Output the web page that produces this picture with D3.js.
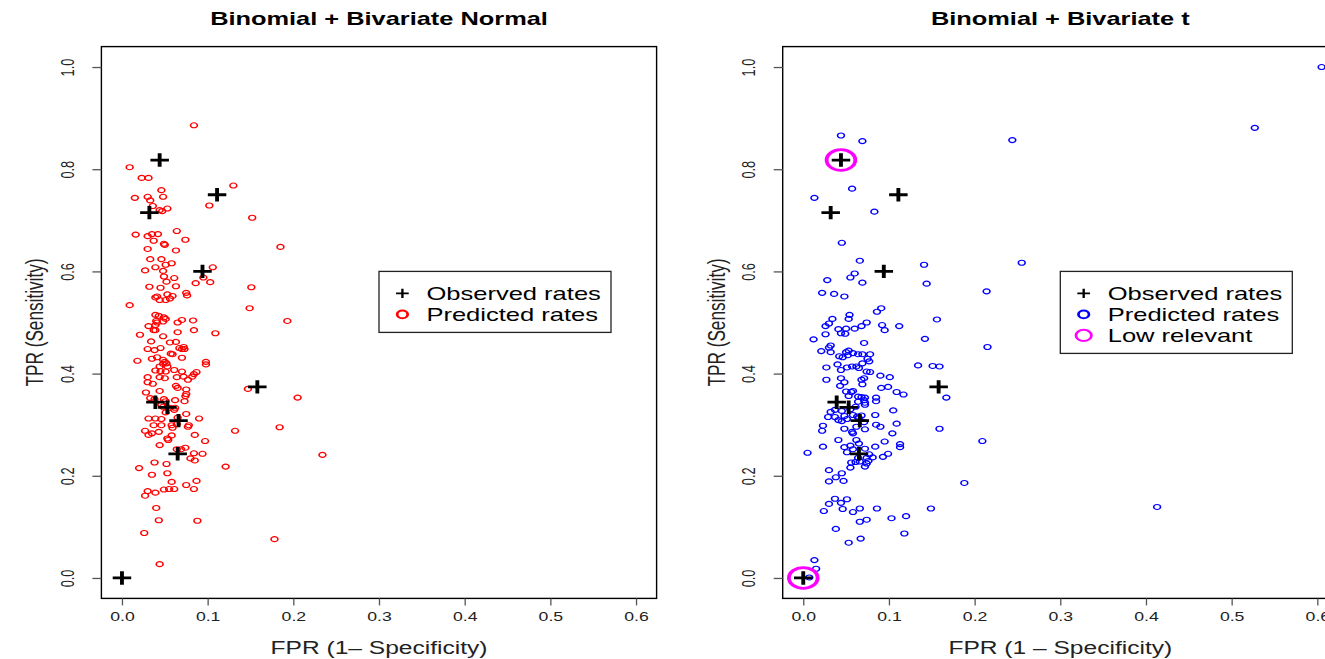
<!DOCTYPE html>
<html>
<head>
<meta charset="utf-8">
<script src="https://cdn.jsdelivr.net/npm/d3@7"></script>
<style>
  html, body { margin: 0; padding: 0; background: #fff; overflow: hidden; }
</style>
</head>
<body>
<svg id="chart" width="1325" height="659"></svg>
<script>
// Observed study rates (same in both panels)
const obsFPR = [0, 0.044, 0.111, 0.032, 0.094, 0.158, 0.039, 0.053, 0.066, 0.065];
const obsTPR = [0, 0.818, 0.750, 0.715, 0.600, 0.374, 0.344, 0.334, 0.308, 0.243];

// Predicted rates, binomial + bivariate normal model
const normFPR = [
  0.084,0.009,0.023,0.031,0.130,0.046,0.015,0.030,0.048,0.033,
  0.102,0.036,0.044,0.047,0.053,0.152,0.016,0.030,0.035,0.042,
  0.037,0.064,0.074,0.049,0.050,0.030,0.063,0.185,0.033,0.046,
  0.058,0.051,0.039,0.027,0.106,0.049,0.061,0.095,0.048,0.052,
  0.086,0.103,0.063,0.032,0.045,0.151,0.075,0.076,0.041,0.039,
  0.044,0.051,0.056,0.059,0.053,0.009,0.149,0.039,0.043,0.049,
  0.051,0.040,0.048,0.041,0.070,0.065,0.083,0.193,0.031,0.039,
  0.037,0.039,0.084,0.065,0.109,0.021,0.048,0.034,0.063,0.056,
  0.030,0.045,0.038,0.067,0.072,0.073,0.070,0.057,0.059,0.035,
  0.041,0.070,0.018,0.048,0.050,0.048,0.052,0.053,0.044,0.098,
  0.098,0.039,0.045,0.051,0.061,0.070,0.087,0.084,0.082,0.072,
  0.030,0.044,0.050,0.064,0.077,0.030,0.036,0.063,0.065,0.075,
  0.044,0.147,0.028,0.075,0.074,0.033,0.038,0.049,0.051,0.062,
  0.073,0.205,0.046,0.048,0.056,0.061,0.062,0.051,0.075,0.090,
  0.065,0.031,0.046,0.039,0.037,0.046,0.058,0.064,0.059,0.077,
  0.078,0.184,0.132,0.027,0.035,0.031,0.043,0.058,0.053,0.085,
  0.044,0.064,0.074,0.097,0.054,0.069,0.084,0.094,0.080,0.085,
  0.234,0.038,0.052,0.020,0.121,0.035,0.053,0.058,0.087,0.075,
  0.030,0.039,0.027,0.049,0.055,0.061,0.084,0.040,0.043,0.088,
  0.026,0.178,0.044
];
const normTPR = [
  0.886,0.804,0.783,0.783,0.768,0.759,0.744,0.746,0.746,0.739,
  0.729,0.728,0.720,0.718,0.723,0.705,0.672,0.669,0.673,0.673,
  0.660,0.679,0.662,0.654,0.652,0.644,0.641,0.648,0.624,0.624,
  0.616,0.613,0.608,0.602,0.608,0.590,0.587,0.588,0.601,0.580,
  0.577,0.579,0.571,0.570,0.568,0.569,0.558,0.553,0.551,0.549,
  0.544,0.544,0.547,0.552,0.555,0.534,0.528,0.515,0.513,0.510,
  0.507,0.503,0.502,0.500,0.505,0.500,0.504,0.503,0.493,0.495,
  0.485,0.485,0.485,0.481,0.479,0.476,0.473,0.463,0.462,0.461,
  0.448,0.450,0.446,0.450,0.452,0.448,0.448,0.439,0.438,0.429,
  0.432,0.431,0.425,0.427,0.423,0.419,0.420,0.414,0.414,0.423,
  0.418,0.406,0.405,0.404,0.407,0.404,0.403,0.399,0.394,0.394,
  0.393,0.393,0.391,0.393,0.388,0.383,0.380,0.376,0.372,0.369,
  0.366,0.370,0.363,0.360,0.356,0.352,0.350,0.350,0.346,0.348,
  0.346,0.353,0.339,0.335,0.333,0.329,0.333,0.324,0.321,0.312,
  0.314,0.312,0.311,0.312,0.299,0.299,0.299,0.301,0.294,0.296,
  0.299,0.295,0.288,0.288,0.283,0.280,0.286,0.279,0.273,0.280,
  0.260,0.252,0.255,0.268,0.270,0.252,0.244,0.243,0.234,0.230,
  0.241,0.226,0.223,0.215,0.218,0.202,0.205,0.188,0.190,0.182,
  0.170,0.167,0.161,0.173,0.174,0.174,0.174,0.137,0.113,0.112,
  0.088,0.076,0.027
];

// Predicted rates, binomial + bivariate t model
const tFPR = [
  0.044,0.069,0.057,0.013,0.083,0.045,0.066,0.141,0.060,0.055,
  0.028,0.069,0.144,0.022,0.036,0.048,0.091,0.086,0.156,0.054,
  0.053,0.034,0.030,0.026,0.074,0.068,0.060,0.050,0.041,0.044,
  0.049,0.026,0.092,0.095,0.112,0.012,0.142,0.071,0.032,0.030,
  0.021,0.032,0.053,0.050,0.058,0.064,0.069,0.078,0.042,0.046,
  0.052,0.075,0.077,0.069,0.057,0.051,0.062,0.065,0.040,0.027,
  0.044,0.134,0.151,0.159,0.027,0.044,0.048,0.043,0.068,0.074,
  0.078,0.071,0.069,0.090,0.101,0.091,0.099,0.050,0.056,0.058,
  0.064,0.068,0.072,0.071,0.064,0.085,0.085,0.053,0.109,0.117,
  0.167,0.032,0.037,0.045,0.055,0.048,0.058,0.068,0.061,0.072,
  0.072,0.105,0.029,0.037,0.041,0.045,0.051,0.063,0.065,0.084,
  0.071,0.023,0.022,0.048,0.057,0.062,0.072,0.085,0.090,0.109,
  0.104,0.095,0.113,0.113,0.159,0.041,0.058,0.062,0.065,0.055,
  0.048,0.023,0.058,0.072,0.084,0.005,0.051,0.077,0.074,0.081,
  0.064,0.066,0.061,0.056,0.055,0.074,0.072,0.076,0.093,0.099,
  0.209,0.030,0.045,0.038,0.030,0.047,0.188,0.037,0.051,0.030,
  0.044,0.024,0.046,0.058,0.066,0.086,0.066,0.074,0.103,0.120,
  0.149,0.038,0.118,0.053,0.067,0.013,0.015,0.007,0.244,0.527,
  0.255,0.214,0.215,0.413,0.605
];
const tTPR = [
  0.866,0.855,0.762,0.744,0.717,0.656,0.621,0.613,0.596,0.588,
  0.583,0.578,0.576,0.558,0.556,0.551,0.528,0.521,0.506,0.515,
  0.507,0.507,0.498,0.493,0.500,0.493,0.488,0.488,0.487,0.479,
  0.478,0.477,0.495,0.485,0.493,0.467,0.468,0.460,0.455,0.451,
  0.444,0.442,0.445,0.442,0.440,0.438,0.438,0.438,0.434,0.432,
  0.436,0.429,0.424,0.420,0.414,0.412,0.414,0.411,0.418,0.412,
  0.407,0.416,0.415,0.414,0.388,0.391,0.383,0.376,0.388,0.404,
  0.403,0.391,0.379,0.396,0.393,0.372,0.374,0.365,0.364,0.366,
  0.355,0.354,0.353,0.348,0.345,0.353,0.346,0.356,0.364,0.359,
  0.353,0.325,0.329,0.327,0.330,0.317,0.319,0.318,0.335,0.343,
  0.339,0.328,0.315,0.315,0.309,0.307,0.311,0.316,0.313,0.319,
  0.305,0.298,0.288,0.292,0.286,0.296,0.291,0.300,0.296,0.302,
  0.283,0.267,0.262,0.256,0.292,0.270,0.283,0.270,0.263,0.259,
  0.256,0.257,0.252,0.253,0.257,0.245,0.246,0.242,0.235,0.236,
  0.235,0.228,0.227,0.226,0.216,0.224,0.218,0.229,0.237,0.243,
  0.268,0.211,0.205,0.197,0.189,0.190,0.186,0.155,0.154,0.145,
  0.147,0.131,0.135,0.129,0.136,0.136,0.110,0.114,0.117,0.121,
  0.136,0.096,0.087,0.069,0.077,0.035,0.018,0.001,0.857,0.881,
  0.617,0.561,0.452,0.139,1.000
];

// Studies flagged as low relevant under the t model
const lowFPR = [0.044, 0];
const lowTPR = [0.818, 0];

const xTicks = [0, 0.1, 0.2, 0.3, 0.4, 0.5, 0.6];
const yTicks = [0, 0.2, 0.4, 0.6, 0.8, 1.0];

// ---------------------------------------------------------------------------
const SX = 1.38;                         // horizontal stretch of glyphs and marks
const FONT = "'Liberation Sans', Arial, Helvetica, sans-serif";
const TOP = 46.6, PW = 555.2, PH = 551.8;

const svg = d3.select("#chart");

const panels = [
  {
    left: 101.4,
    title: "Binomial + Bivariate Normal",
    xTitle: "FPR (1\u2013 Specificity)",
    fpr: normFPR, tpr: normTPR, color: "#ff0000",
    legend: [
      {type: "plus", label: "Observed rates"},
      {type: "o", color: "#ff0000", label: "Predicted rates"}
    ],
    low: false
  },
  {
    left: 782.7,
    title: "Binomial + Bivariate t",
    xTitle: "FPR (1 \u2013 Specificity)",
    fpr: tFPR, tpr: tTPR, color: "#0000ff",
    legend: [
      {type: "plus", label: "Observed rates"},
      {type: "o", color: "#0000ff", label: "Predicted rates"},
      {type: "big", color: "#ff00ff", label: "Low relevant"}
    ],
    low: true
  }
];

function stretched(sel, x, y) {
  return sel.attr("transform", `translate(${x},${y}) scale(${SX},1)`);
}

panels.forEach(p => {
  const x = d3.scaleLinear().domain([-0.024, 0.624]).range([p.left, p.left + PW]);
  const y = d3.scaleLinear().domain([-0.04, 1.04]).range([TOP + PH, TOP]);
  const g = svg.append("g");

  // predicted rates
  const pts = d3.range(p.fpr.length).map(i => [p.fpr[i], p.tpr[i]]);
  g.append("g").selectAll("circle").data(pts).join("circle")
    .attr("r", 2.5)
    .attr("fill", "none")
    .attr("stroke", p.color)
    .attr("stroke-width", 1.1)
    .each(function(d) { stretched(d3.select(this), x(d[0]), y(d[1])); });

  // observed rates
  const obs = d3.range(obsFPR.length).map(i => [obsFPR[i], obsTPR[i]]);
  g.append("g").selectAll("path").data(obs).join("path")
    .attr("d", "M-6.7,0H6.7M0,-6.7V6.7")
    .attr("stroke", "#000")
    .attr("stroke-width", 2.8)
    .attr("fill", "none")
    .each(function(d) { stretched(d3.select(this), x(d[0]), y(d[1])); });

  // low relevant studies
  if (p.low) {
    const lows = d3.range(lowFPR.length).map(i => [lowFPR[i], lowTPR[i]]);
    g.append("g").selectAll("circle").data(lows).join("circle")
      .attr("r", 10.4)
      .attr("fill", "none")
      .attr("stroke", "#ff00ff")
      .attr("stroke-width", 2.8)
      .each(function(d) { stretched(d3.select(this), x(d[0]), y(d[1])); });
  }

  // frame
  g.append("rect")
    .attr("x", p.left).attr("y", TOP).attr("width", PW).attr("height", PH)
    .attr("fill", "none").attr("stroke", "#000").attr("stroke-width", 1.4);

  // x axis
  const xa = g.append("g")
    .attr("transform", `translate(0,${TOP + PH})`)
    .call(d3.axisBottom(x).tickValues(xTicks).tickSize(7).tickFormat(d3.format(".1f")));
  xa.select(".domain").remove();
  xa.selectAll(".tick line").attr("stroke", "#555").attr("stroke-width", 1.3);
  xa.selectAll(".tick text")
    .attr("y", null).attr("dy", null)
    .attr("fill", "#222")
    .attr("font-family", FONT).attr("font-size", 12.8)
    .attr("transform", `translate(0,23) scale(${SX},1)`);

  // y axis
  const ya = g.append("g")
    .attr("transform", `translate(${p.left},0)`)
    .call(d3.axisLeft(y).tickValues(yTicks).tickSize(9).tickFormat(d3.format(".1f")));
  ya.select(".domain").remove();
  ya.selectAll(".tick line").attr("stroke", "#555").attr("stroke-width", 1.3);
  ya.selectAll(".tick text")
    .attr("x", null).attr("dy", "0.35em")
    .attr("text-anchor", "middle")
    .attr("fill", "#222")
    .attr("font-family", FONT).attr("font-size", 12.8)
    .attr("transform", `translate(-33.4,0) rotate(-90) scale(1,${SX})`);

  // titles
  const midX = x(0.3);
  g.append("text")
    .text(p.title)
    .attr("text-anchor", "middle")
    .attr("font-family", FONT).attr("font-weight", "bold").attr("font-size", 18.4)
    .attr("fill", "#000")
    .attr("transform", `translate(${midX},24.5) scale(${SX},1)`);

  g.append("text")
    .text(p.xTitle)
    .attr("text-anchor", "middle")
    .attr("font-family", FONT).attr("font-size", 17.8)
    .attr("fill", "#222")
    .attr("transform", `translate(${midX},653.5) scale(${SX},1)`);

  g.append("text")
    .text("TPR (Sensitivity)")
    .attr("text-anchor", "middle")
    .attr("dy", "0.35em")
    .attr("font-family", FONT).attr("font-size", 17.2)
    .attr("fill", "#222")
    .attr("transform", `translate(${p.left - 66.4},${y(0.5)}) rotate(-90) scale(1,${SX})`);

  // legend
  const lg = g.append("g").attr("transform", `translate(${x(0.3)},${y(0.6)})`);
  const rowH = 21;
  lg.append("rect")
    .attr("x", 0).attr("y", 0)
    .attr("width", 232).attr("height", 19 + rowH * p.legend.length)
    .attr("fill", "#fff").attr("stroke", "#222").attr("stroke-width", 1.3);
  p.legend.forEach((it, i) => {
    const cy = 22 + i * rowH;
    if (it.type === "plus") {
      stretched(lg.append("path"), 23.4, cy)
        .attr("d", "M-4.6,0H4.6M0,-4.6V4.6")
        .attr("stroke", "#000").attr("stroke-width", 1.7).attr("fill", "none");
    } else if (it.type === "o") {
      stretched(lg.append("circle"), 23.4, cy)
        .attr("r", 3.8).attr("fill", "none")
        .attr("stroke", it.color).attr("stroke-width", 2);
    } else {
      stretched(lg.append("circle"), 23.4, cy)
        .attr("r", 5.6).attr("fill", "none")
        .attr("stroke", it.color).attr("stroke-width", 2);
    }
    lg.append("text")
      .text(it.label)
      .attr("font-family", FONT).attr("font-size", 18.5)
      .attr("fill", "#000")
      .attr("dy", "0.35em")
      .attr("transform", `translate(47.4,${cy}) scale(${SX},1)`);
  });
});
</script>
</body>
</html>
